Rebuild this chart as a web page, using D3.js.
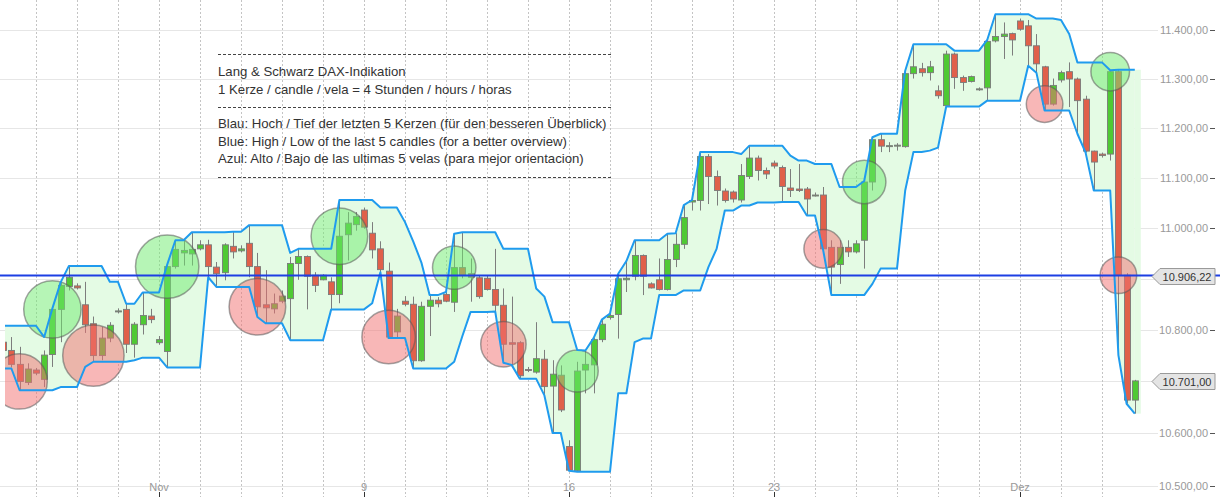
<!DOCTYPE html>
<html>
<head>
<meta charset="utf-8">
<script src="https://cdn.jsdelivr.net/npm/d3@7"></script>
<style>
  body { margin: 0; background: #fff; }
  svg { display: block; font-family: "Liberation Sans", Arial, sans-serif; }
</style>
</head>
<body>
<svg id="chart" width="1220" height="497"></svg>
<script>
// 4h candles, Lang & Schwarz DAX indication, 27 Oct - 3 Dec
const opens = [10776,10760,10733,10698,10722,10704,10752,10840,10885,10886,10849,10812,10750,10784,10836,10840,10772,10810,10827,10775,
  10758,10924,10951,10949,10959,10967,10923,10912,10964,10955,10970,10924,10849,10841,10856,10861,10930,10944,10907,10898,
  10894,10869,10987,11007,11036,10990,10959,10915,10796,10856,10850,10740,10846,10858,10869,10854,10922,10910,10902,10901,
  10879,10848,10775,10775,10723,10718,10743,10691,10712,10575,10529,10722,10732,10781,10824,10830,10898,10905,10946,10890,
  10898,10879,10938,10968,11052,11055,11143,11103,11074,11072,11056,11103,11140,11115,11130,11121,11080,11078,11078,11066,
  11066,10962,10928,10962,10953,10976,11092,11177,11165,11165,11163,11311,11321,11313,11276,11246,11351,11303,11295,11280,
  11282,11378,11387,11393,11419,11409,11368,11325,11249,11298,11315,11300,11259,11154,11148,11148,11315,10907,10664];
const highs = [10808,10786,10767,10735,10726,10760,10842,10893,10925,10891,10894,10826,10806,10815,10842,10851,10815,10873,10841,10788,
  10928,10976,10976,10992,10976,10977,10933,10970,10993,10966,11006,10951,10917,10871,10877,10943,10959,10946,10913,10909,
  10903,11056,11032,11032,11041,11012,10974,10932,10841,10866,10865,10855,10868,10864,10874,10989,10992,10940,10907,10907,
  10959,10881,10865,10778,10728,10815,10761,10741,10731,10587,10738,10760,10784,10820,10832,10910,10935,10976,10948,10893,
  10940,10989,10990,11046,11056,11152,11148,11115,11079,11075,11128,11165,11145,11121,11135,11125,11118,11128,11082,11071,
  11082,10976,10976,10976,10976,11094,11182,11189,11172,11170,11317,11371,11333,11337,11287,11358,11354,11307,11307,11283,
  11380,11433,11416,11395,11424,11421,11392,11327,11301,11317,11334,11303,11266,11155,11151,11318,11319,10911,10703];
const lows = [10725,10727,10683,10693,10712,10689,10728,10776,10877,10879,10794,10738,10741,10776,10832,10755,10746,10791,10813,10771,
  10727,10920,10926,10926,10956,10903,10884,10897,10940,10952,10903,10825,10813,10832,10852,10780,10898,10840,10874,10897,
  10840,10852,10936,10995,10999,10940,10913,10784,10785,10846,10725,10738,10788,10844,10854,10835,10901,10855,10861,10877,
  10836,10736,10732,10705,10718,10715,10673,10601,10641,10529,10527,10677,10677,10776,10820,10783,10874,10897,10868,10881,
  10877,10877,10923,10959,11035,11035,11048,11045,11051,11051,11051,11098,11095,11098,11119,11052,11062,11072,11025,11063,
  10956,10868,10890,10943,10950,10920,11075,11152,11152,11155,11161,11301,11305,11297,11260,11244,11280,11276,11293,11276,
  11256,11375,11341,11348,11399,11327,11313,11236,11246,11293,11243,11189,11151,11075,11141,11135,10751,10657,10638];
const closes = [10760,10733,10700,10724,10716,10751,10840,10887,10903,10882,10810,10750,10784,10809,10837,10772,10811,10828,10820,10781,
  10924,10958,10956,10958,10967,10924,10910,10967,10953,10959,10924,10845,10843,10851,10866,10930,10944,10905,10887,10907,
  10869,10984,11010,11023,11002,10957,10918,10786,10827,10850,10740,10846,10858,10851,10856,10922,10907,10903,10865,10879,
  10848,10772,10772,10711,10722,10744,10690,10714,10645,10530,10720,10733,10781,10811,10828,10900,10901,10946,10905,10882,
  10879,10938,10968,11021,11055,11143,11103,11075,11055,11058,11105,11140,11115,11108,11124,11083,11075,11075,11058,11066,
  10959,10923,10962,10953,10969,11092,11177,11164,11165,11166,11311,11325,11313,11325,11266,11351,11303,11293,11305,11280,
  11377,11387,11392,11380,11402,11368,11331,11249,11287,11313,11300,11256,11154,11132,11145,11315,10907,10664,10701];

const priceTicks = [10500, 10600, 10700, 10800, 10900, 11000, 11100, 11200, 11300, 11400];
const dateTickIndex = [19, 44, 69, 94, 124];
const dateTickLabels = ["Nov", "9", "16", "23", "Dez"];
const candlesPerDay = 5;
const firstDayStart = 4;

// trend flip markers: candle index and direction
const signalIndex = [2, 6, 11, 20, 31, 41, 47, 55, 61, 70, 100, 105, 127, 135, 136];
const signalDir = ["down","up","down","up","down","up","down","up","down","up","down","up","down","up","down"];
const markerRadius = [27.7, 28.7, 30.7, 31.7, 28.3, 28.3, 26.7, 21.7, 22.7, 21, 19.3, 21.7, 18.3, 19.3, 18.3];

const refLevel = 10906.22;
const lastPrice = closes[closes.length - 1];

const noteLines = [
  "Lang & Schwarz DAX-Indikation",
  "1 Kerze / candle / vela = 4 Stunden / hours / horas",
  "Blau: Hoch / Tief der letzten 5 Kerzen (für den besseren Überblick)",
  "Blue: High / Low of the last 5 candles (for a better overview)",
  "Azul: Alto / Bajo de las ultimas 5 velas (para mejor orientacion)"
];

const n = closes.length;
const lookback = 5;
const upper = closes.map((c, i) => d3.max(highs.slice(Math.max(0, i - lookback + 1), i + 1)));
const lower = closes.map((c, i) => d3.min(lows.slice(Math.max(0, i - lookback + 1), i + 1)));

const de = d3.formatLocale({decimal: ",", thousands: ".", grouping: [3], currency: ["", "€"]});
const fmt = de.format(",.2f");

const W = 1220, H = 497;
const svg = d3.select("#chart");

const x = d3.scaleLinear().domain([0, n - 1]).range([3.2, 3.2 + 8.2 * (n - 1)]);
const y = d3.scaleLog().domain([10500, 11400]).range([486, 30.2]);

svg.append("defs").append("clipPath").attr("id", "plot")
  .append("rect").attr("x", 5).attr("y", 0).attr("width", 1147).attr("height", H);

// grid
svg.append("g").selectAll("line")
  .data(priceTicks)
  .enter().append("line")
  .attr("x1", 0).attr("x2", 1158)
  .attr("y1", d => Math.round(y(d)) + 0.5).attr("y2", d => Math.round(y(d)) + 0.5)
  .attr("stroke", "#e6e6e6");

const dayStarts = d3.range(firstDayStart, n, candlesPerDay);
svg.append("g").selectAll("line")
  .data(dayStarts)
  .enter().append("line")
  .attr("x1", d => Math.round(x(d)) + 0.5).attr("x2", d => Math.round(x(d)) + 0.5)
  .attr("y1", 0).attr("y2", H)
  .attr("stroke", "#c4c4c4")
  .attr("stroke-dasharray", "2,2");

const plot = svg.append("g").attr("clip-path", "url(#plot)");

// band of last 5 candles
const idx = d3.range(n);
plot.append("path")
  .datum(idx)
  .attr("d", d3.area().x(i => x(i)).y0(i => y(lower[i])).y1(i => y(upper[i])))
  .attr("fill", "#e4fbe4");
plot.append("rect")
  .attr("x", x(n - 1)).attr("width", 6)
  .attr("y", y(upper[n - 1])).attr("height", y(lower[n - 1]) - y(upper[n - 1]))
  .attr("fill", "#e4fbe4");

// candles
const candle = plot.append("g").selectAll("g")
  .data(idx)
  .enter().append("g");

candle.append("line")
  .attr("x1", i => Math.round(x(i)) + 0.5).attr("x2", i => Math.round(x(i)) + 0.5)
  .attr("y1", i => y(highs[i])).attr("y2", i => y(lows[i]))
  .attr("stroke", "#7d7d7d");

candle.append("rect")
  .attr("x", i => Math.round(x(i)) - 2.5)
  .attr("width", 6)
  .attr("y", i => y(Math.max(opens[i], closes[i])))
  .attr("height", i => Math.max(1, Math.abs(y(opens[i]) - y(closes[i]))))
  .attr("fill", i => closes[i] >= opens[i] ? "#4fc934" : "#e0604a")
  .attr("stroke", "#7a7a7a")
  .attr("stroke-width", 0.9);

// markers
plot.append("g").selectAll("circle")
  .data(signalIndex)
  .enter().append("circle")
  .attr("cx", i => x(i))
  .attr("cy", i => y(closes[i]))
  .attr("r", (i, k) => markerRadius[k])
  .attr("fill", (i, k) => signalDir[k] === "up" ? "rgba(110,235,110,0.5)" : "rgba(242,112,112,0.5)")
  .attr("stroke", "rgba(90,90,90,0.55)")
  .attr("stroke-width", 1.5);

// band lines
const bandLine = key => d3.line().x(i => x(i)).y(i => y(key[i]));
[upper, lower].forEach(s => {
  plot.append("path")
    .datum(idx)
    .attr("d", bandLine(s))
    .attr("fill", "none")
    .attr("stroke", "#1f9bee")
    .attr("stroke-width", 2)
    .attr("stroke-linejoin", "round");
});

// reference level
svg.append("line")
  .attr("x1", 0).attr("x2", W)
  .attr("y1", y(refLevel)).attr("y2", y(refLevel))
  .attr("stroke", "#1d3fe3")
  .attr("stroke-width", 2);

// note block
const note = svg.append("g").attr("font-size", 13.2).attr("fill", "#333");
[54, 107, 177].forEach(v => {
  note.append("line")
    .attr("x1", 218).attr("x2", 612)
    .attr("y1", v + 0.5).attr("y2", v + 0.5)
    .attr("stroke", "#444")
    .attr("stroke-dasharray", "3,2");
});
const noteY = [76, 94, 128, 145.5, 163];
note.selectAll("text")
  .data(noteLines)
  .enter().append("text")
  .attr("x", 218)
  .attr("y", (d, i) => noteY[i])
  .text(d => d);

// right axis (labels hidden where a price tag sits)
const tags = [refLevel, lastPrice];
const shownTicks = priceTicks.filter(v => tags.every(t => Math.abs(y(v) - y(t)) > 10));
const axis = svg.append("g").attr("font-size", 11);
axis.selectAll("text")
  .data(shownTicks)
  .enter().append("text")
  .attr("x", 1208)
  .attr("y", d => y(d) + 4)
  .attr("text-anchor", "end")
  .attr("fill", "#999")
  .text(d => fmt(d));
axis.selectAll("line")
  .data(shownTicks)
  .enter().append("line")
  .attr("x1", 1210).attr("x2", 1215)
  .attr("y1", d => Math.round(y(d)) + 0.5).attr("y2", d => Math.round(y(d)) + 0.5)
  .attr("stroke", "#555");

// price tags
tags.forEach(v => {
  const yc = Math.round(y(v)) + 0.5;
  svg.append("path")
    .attr("d", `M1152,${yc} L1160,${yc - 8} L1215,${yc - 8} L1215,${yc + 8} L1160,${yc + 8} Z`)
    .attr("fill", "#e4e4e4")
    .attr("stroke", "#9a9a9a");
  svg.append("text")
    .attr("x", 1187).attr("y", yc + 4)
    .attr("text-anchor", "middle")
    .attr("font-size", 11)
    .attr("fill", "#333")
    .text(fmt(v));
});

// date axis
const dates = svg.append("g").attr("font-size", 11);
dates.selectAll("text")
  .data(dateTickIndex)
  .enter().append("text")
  .attr("x", i => x(i))
  .attr("y", 490.5)
  .attr("text-anchor", "middle")
  .attr("fill", "#999")
  .text((i, k) => dateTickLabels[k]);
dates.selectAll("line")
  .data(dateTickIndex)
  .enter().append("line")
  .attr("x1", i => Math.round(x(i)) + 0.5).attr("x2", i => Math.round(x(i)) + 0.5)
  .attr("y1", 492).attr("y2", 497)
  .attr("stroke", "#333");
</script>
</body>
</html>
